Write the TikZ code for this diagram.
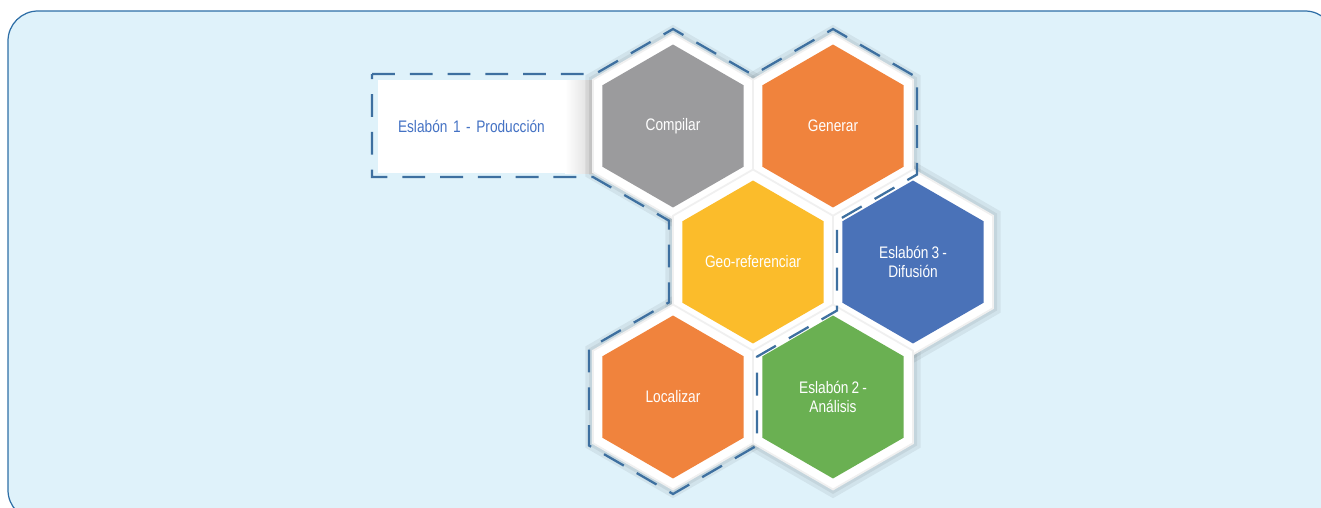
\documentclass[tikz,border=0pt]{standalone}
\usepackage{fontspec}
\setmainfont{Liberation Sans}[FakeStretch=0.82,WordSpace=0.8]
\usetikzlibrary{shapes.geometric}

\definecolor{fondo}{HTML}{DFF2FA}
\definecolor{marco}{HTML}{2E6EA6}
\definecolor{guion}{HTML}{3E70A0}
\definecolor{gris}{HTML}{9B9B9D}
\definecolor{naranja}{HTML}{F0833D}
\definecolor{amarillo}{HTML}{FBBC2B}
\definecolor{azul}{HTML}{4A72B8}
\definecolor{verde}{HTML}{6AB052}
\definecolor{textoazul}{HTML}{4472C4}

\begin{document}
\begin{tikzpicture}[x=0.02cm,y=-0.02cm,font=\fontsize{9.5}{10.5}\selectfont,
	hexa/.style={regular polygon,regular polygon sides=6,shape border rotate=30,inner sep=0pt,minimum size=3.26cm,text=white,align=center},
	halo/.style={regular polygon,regular polygon sides=6,shape border rotate=30,inner sep=0pt,minimum size=3.7cm,fill=white,draw=gray!12,line width=1pt},
	sombra/.style={regular polygon,regular polygon sides=6,shape border rotate=30,inner sep=0pt,minimum size=#1,fill=black,fill opacity=0.06},
	grupo/.style={draw=guion,line width=1.3pt,dash pattern=on 13pt off 8.5pt}]
	\useasboundingbox (0,0) rectangle (1321,507);
	\draw[fill=fondo,draw=marco,line width=0.7pt,rounded corners=0.6cm] (8,11) rectangle (1335,520);
	% eslabon 1
	\node (esl1) [fill=white,minimum height=1.86cm,text width=3.64cm,inner xsep=0.4cm,align=left,text=textoazul] at (489,126.5) {Eslabón 1 - Producción};
	\shade[left color=white,right color=gray!40] (565,80) rectangle (605,173);
	% halos
	\foreach \p in {(673,126),(833,126),(753,262),(913,262),(673,397),(833,397)} {
		\node [sombra=4.05cm] at \p {};
		\node [sombra=3.88cm] at \p {};
	}
	\foreach \p in {(673,126),(833,126),(753,262),(913,262),(673,397),(833,397)}
		\node [halo] at \p {};
	\node (comp) [hexa,fill=gris]     at (673,126) {Compilar};
	\node (gen)  [hexa,fill=naranja]  at (833,126) {Generar};
	\node (geo)  [hexa,fill=amarillo] at (753,262) {Geo-referenciar};
	\node (dif)  [hexa,fill=azul]     at (913,262) {Eslabón 3 -\\Difusión};
	\node (loc)  [hexa,fill=naranja]  at (673,397) {Localizar};
	\node (ana)  [hexa,fill=verde]    at (833,397) {Eslabón 2 -\\Análisis};
	% contorno del eslabon 1
	\draw[grupo] (372,74) -- (595,74) -- (673,29) -- (753,75) -- (833,29) -- (917,77.5) -- (917,174.5) -- (837,220.7) -- (837,310.5) -- (757,356.7) -- (757,445.5) -- (673,494) -- (589,445.5) -- (589,348.5) -- (669,302.3) -- (669,220.7) -- (593,177) -- (372,177) -- cycle;
\end{tikzpicture}
\end{document}
